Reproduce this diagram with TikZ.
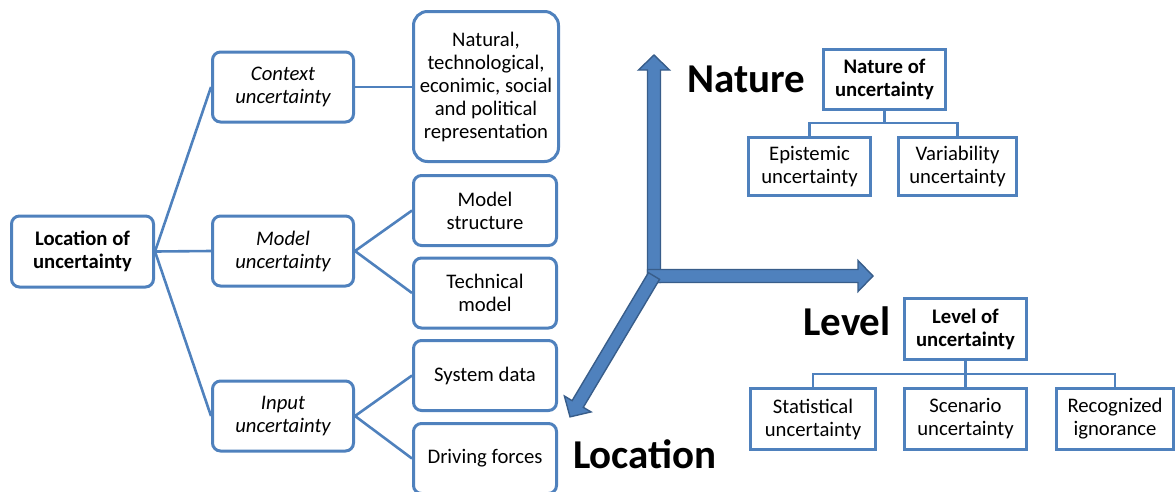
\documentclass[tikz,border=0pt]{standalone}
\usepackage{fontspec}
\setmainfont{Carlito}
\definecolor{boxblue}{HTML}{4F81BD}
\definecolor{arrowborder}{HTML}{385D8A}
\newcommand\blockarr[3]{% angle, length, start
\begin{scope}[shift={(654,276)}, rotate=#1]
\filldraw[fill=boxblue, draw=arrowborder, line width=1.4pt, line join=miter] (#3,-6.5) -- (#2-15,-6.5) -- (#2-15,-15.5) -- (#2,0) -- (#2-15,15.5) -- (#2-15,6.5) -- (#3,6.5) -- cycle;
\end{scope}}
\begin{document}
\begin{tikzpicture}[x=1pt,y=-1pt,
  txt/.style={font=\fontsize{20.7}{23}\selectfont, text=black, align=center, inner sep=0pt},
  rbox/.style={txt, draw=boxblue, line width=3pt, rounded corners=8pt, fill=white},
  ibox/.style={rbox, font=\fontsize{20.7}{23}\selectfont\itshape},
  sbox/.style={txt, draw=boxblue, line width=3pt, fill=white},
  bsbox/.style={sbox, font=\fontsize{20.7}{23}\selectfont\bfseries},
  conn/.style={draw=boxblue, line width=2.6pt},
  biglabel/.style={font=\fontsize{41}{48}\selectfont\bfseries, text=black, inner sep=0pt, anchor=base west}
]
\useasboundingbox (0,0) rectangle (1176,491);
% left tree
\node[rbox, font=\fontsize{20.7}{23}\selectfont\bfseries, minimum width=142, minimum height=71] (loc) at (82.5,251.5) {Location of\\uncertainty};
\node[ibox, minimum width=141, minimum height=70] (ctx) at (283,87) {Context\\uncertainty};
\node[ibox, minimum width=141, minimum height=70] (mod) at (283,251) {Model\\uncertainty};
\node[ibox, minimum width=141, minimum height=70] (inp) at (283,416) {Input\\uncertainty};
\node[rbox, rounded corners=14pt, minimum width=145, minimum height=150] (nat) at (486,86.5) {Natural,\\technological,\\econimic, social\\and political\\representation};
\node[rbox, minimum width=143, minimum height=70] (ms) at (485,210.5) {Model\\structure};
\node[rbox, minimum width=143, minimum height=70] (tm) at (485,293) {Technical\\model};
\node[rbox, minimum width=143, minimum height=70] (sd) at (485,375.5) {System data};
\node[rbox, minimum width=143, minimum height=70] (df) at (485,458.5) {Driving forces};
\draw[conn] (loc.east) -- (ctx.west);
\draw[conn] (loc.east) -- (mod.west);
\draw[conn] (loc.east) -- (inp.west);
\draw[conn] (ctx.east) -- (nat.west |- ctx.east);
\draw[conn] (mod.east) -- (ms.west);
\draw[conn] (mod.east) -- (tm.west);
\draw[conn] (inp.east) -- (sd.west);
\draw[conn] (inp.east) -- (df.west);
% axes
\blockarr{90}{221}{-6.5}
\blockarr{0}{219}{-6.5}
\blockarr{239.2}{164}{0}
\node[biglabel] (lnature) at (687,92) {Nature};
\node[biglabel] (llevel) at (803,335) {Level};
\node[biglabel] (llocation) at (573,468) {Location};
% nature tree
\node[bsbox, minimum width=122, minimum height=60] (natu) at (884.5,79.5) {Nature of\\uncertainty};
\node[sbox, minimum width=122, minimum height=58] (epi) at (809.5,166.5) {Epistemic\\uncertainty};
\node[sbox, minimum width=118, minimum height=58] (var) at (957.5,166.5) {Variability\\uncertainty};
\draw[conn] (natu.south) -- ++(0,12) -| (epi.north);
\draw[conn] (natu.south) -- ++(0,12) -| (var.north);
% level tree
\node[bsbox, minimum width=122, minimum height=61] (levu) at (965.5,329) {Level of\\uncertainty};
\node[sbox, minimum width=125, minimum height=61] (stat) at (813,419) {Statistical\\uncertainty};
\node[sbox, minimum width=122, minimum height=61] (scen) at (965.5,419) {Scenario\\uncertainty};
\node[sbox, minimum width=117, minimum height=61] (rec) at (1115,419) {Recognized\\ignorance};
\draw[conn] (levu.south) -- ++(0,13) -| (stat.north);
\draw[conn] (levu.south) -- ++(0,13) -- (scen.north);
\draw[conn] (levu.south) -- ++(0,13) -| (rec.north);
\end{tikzpicture}
\end{document}
